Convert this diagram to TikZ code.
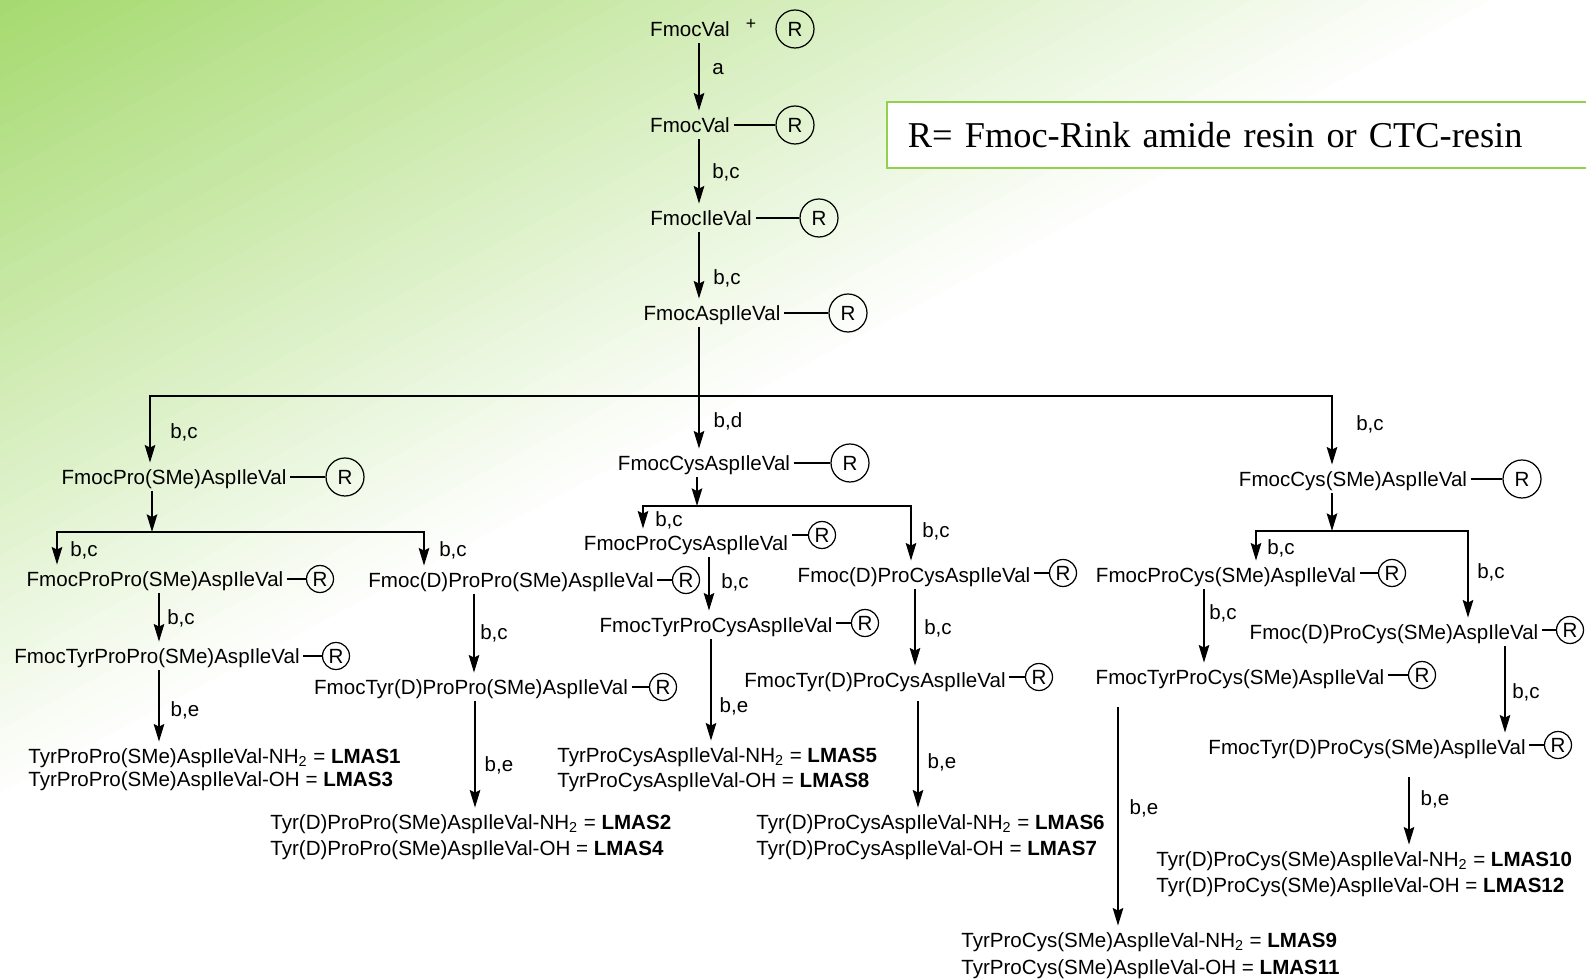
\documentclass[tikz,border=0pt]{standalone}
\usepackage{fontspec}
\setmainfont{Liberation Sans}
\newfontfamily\keyfont{Liberation Serif}
\usetikzlibrary{arrows.meta}
\newcommand\chemfont{\fontsize{11.7}{14}\selectfont}
\definecolor{bggreen}{HTML}{A6DA70}
\definecolor{keygreen}{HTML}{92D050}
\tikzset{
  chem/.style={font=\chemfont, text height=10pt, text depth=2pt, inner sep=2pt},
  prod/.style={chem, anchor=west},
  cond/.style={font=\chemfont, inner sep=0pt},
  resin/.style={circle, draw, line width=0.7pt, inner sep=0pt, minimum size=0.76cm, font=\chemfont},
  bead/.style={resin, minimum size=0.54cm},
  arr/.style={line width=1pt, -{Stealth[length=10pt,width=6pt,inset=1.5pt]}},
  link/.style={line width=0.8pt},
}
\begin{document}
\begin{tikzpicture}[x=0.02cm,y=-0.02cm]
\useasboundingbox (0,0) rectangle (1586,979);
% background
\begin{scope}
\clip (0,0) rectangle (1586,979);
\foreach \i in {0,...,50}{
  \pgfmathtruncatemacro\pct{100-2*\i}
  \fill[bggreen!\pct!white, rotate=-62] (14*\i,-3000) rectangle (2000,3000);
}
\end{scope}

\node[draw=keygreen, line width=1.1pt, fill=white, anchor=west, minimum height=1.32cm,
  text width=13.5cm, inner xsep=0.42cm, align=left,
  font=\keyfont\fontsize{20.7}{25}\selectfont] (key) at (886,135) {R= Fmoc-Rink amide resin or CTC-resin};

% main chain
\node[chem] (v0) at (690,29) {FmocVal};
\node[font=\fontsize{10}{11}\selectfont, inner sep=0pt] (plus) at (751,24) {+};
\node[resin] (r0) at (795,29) {R};
\node[chem] (v1) at (690,125) {FmocVal};
\node[resin] (r1) at (795,125) {R};
\node[chem] (v2) at (701,218) {FmocIleVal};
\node[resin] (r2) at (819,218) {R};
\node[chem] (v3) at (712,313) {FmocAspIleVal};
\node[resin] (r3) at (848,313) {R};
\draw[link] (v1) -- (r1);
\draw[link] (v2) -- (r2);
\draw[link] (v3) -- (r3);
\draw[arr] (v0.south -| 699,0) -- (v1.north -| 699,0);
\draw[arr] (v1.south -| 699,0) -- (v2.north -| 699,0);
\draw[arr] (v2.south -| 699,0) -- (v3.north -| 699,0);
\node[cond] (la) at (718,69) {a};
\node[cond] (lb1) at (726,172) {b,c};
\node[cond] (lb2) at (727,278) {b,c};

% left branch
\node[chem] (L1) at (174,477) {FmocPro(SMe)AspIleVal};
\node[resin] (rL1) at (345,477) {R};
\node[chem] (L2) at (155,579) {FmocProPro(SMe)AspIleVal};
\node[bead] (rL2) at (320,579) {R};
\node[chem] (L3) at (157,656) {FmocTyrProPro(SMe)AspIleVal};
\node[bead] (rL3) at (336,656) {R};
\node[prod] (L4a) at (24.5,756) {TyrProPro(SMe)AspIleVal-NH\textsubscript{2} = \textbf{LMAS1}};
\node[prod] (L4b) at (24.5,779) {TyrProPro(SMe)AspIleVal-OH = \textbf{LMAS3}};
\node[chem] (L5) at (511,580) {Fmoc(D)ProPro(SMe)AspIleVal};
\node[bead] (rL5) at (686,580) {R};
\node[chem] (L6) at (471,687) {FmocTyr(D)ProPro(SMe)AspIleVal};
\node[bead] (rL6) at (663,687) {R};
\node[prod] (L7a) at (266.5,822) {Tyr(D)ProPro(SMe)AspIleVal-NH\textsubscript{2} = \textbf{LMAS2}};
\node[prod] (L7b) at (266.5,848) {Tyr(D)ProPro(SMe)AspIleVal-OH = \textbf{LMAS4}};

% middle branch
\node[chem] (C1) at (704,463) {FmocCysAspIleVal};
\node[resin] (rC1) at (850,463) {R};
\node[chem] (C2) at (686,543) {FmocProCysAspIleVal};
\node[bead] (rC2) at (822,535) {R};
\node[chem] (C3) at (716,625) {FmocTyrProCysAspIleVal};
\node[bead] (rC3) at (865,623) {R};
\node[prod] (C4a) at (553.5,755) {TyrProCysAspIleVal-NH\textsubscript{2} = \textbf{LMAS5}};
\node[prod] (C4b) at (553.5,780) {TyrProCysAspIleVal-OH = \textbf{LMAS8}};
\node[chem] (C5) at (914,575) {Fmoc(D)ProCysAspIleVal};
\node[bead] (rC5) at (1063,573) {R};
\node[chem] (C6) at (875,680) {FmocTyr(D)ProCysAspIleVal};
\node[bead] (rC6) at (1039,677) {R};
\node[prod] (C7a) at (752.5,822) {Tyr(D)ProCysAspIleVal-NH\textsubscript{2} = \textbf{LMAS6}};
\node[prod] (C7b) at (752.5,848) {Tyr(D)ProCysAspIleVal-OH = \textbf{LMAS7}};

% right branch
\node[chem] (R1) at (1353,479) {FmocCys(SMe)AspIleVal};
\node[resin] (rR1) at (1522,479) {R};
\node[chem] (R2) at (1226,575) {FmocProCys(SMe)AspIleVal};
\node[bead] (rR2) at (1392,573) {R};
\node[chem] (R3) at (1240,677) {FmocTyrProCys(SMe)AspIleVal};
\node[bead] (rR3) at (1422,675) {R};
\node[prod] (R4a) at (957.5,940) {TyrProCys(SMe)AspIleVal-NH\textsubscript{2} = \textbf{LMAS9}};
\node[prod] (R4b) at (957.5,967) {TyrProCys(SMe)AspIleVal-OH = \textbf{LMAS11}};
\node[chem] (R5) at (1394,632) {Fmoc(D)ProCys(SMe)AspIleVal};
\node[bead] (rR5) at (1570,630) {R};
\node[chem] (R6) at (1367,747) {FmocTyr(D)ProCys(SMe)AspIleVal};
\node[bead] (rR6) at (1558,745) {R};
\node[prod] (R7a) at (1152.5,859) {Tyr(D)ProCys(SMe)AspIleVal-NH\textsubscript{2} = \textbf{LMAS10}};
\node[prod] (R7b) at (1152.5,885) {Tyr(D)ProCys(SMe)AspIleVal-OH = \textbf{LMAS12}};

% resin links
\draw[link] (L1) -- (rL1);
\draw[link] (C1) -- (rC1);
\draw[link] (R1) -- (rR1);
\foreach \t in {L2,L3,L5,L6,C2,C3,C5,C6,R2,R3,R5,R6}
  \draw[link] (\t.east |- r\t) -- (r\t.west);

% junctions
\coordinate (j0) at (699,396);
\coordinate (jL) at (152,532);
\coordinate (jC) at (697,506);
\coordinate (jR) at (1332,531);
\draw[arr] (v3.south -| j0) -- (C1.north -| j0);
\draw[arr] (j0) -| (L1.north -| 150,0);
\draw[arr] (j0) -| (R1.north -| 1332,0);
\draw[arr] (L1.south -| jL) -- (jL);
\draw[arr] (jL) -| (L2.north -| 57,0);
\draw[arr] (jL) -| (L5.north -| 424,0);
\draw[arr] (C1.south -| jC) -- (jC);
\draw[arr] (jC) -| (C2.north -| 643,0);
\draw[arr] (jC) -| (C5.north -| 911,0);
\draw[arr] (R1.south -| jR) -- (jR);
\draw[arr] (jR) -| (R2.north -| 1256,0);
\draw[arr] (jR) -| (R5.north -| 1468,0);
\node[cond] (lbd) at (728,421) {b,d};
\node[cond] (lbl) at (184,432) {b,c};
\node[cond] (lbr) at (1370,424) {b,c};

% steps down
\draw[arr] (L2.south -| 159,0) -- (L3.north -| 159,0);
\draw[arr] (L3.south -| 159,0) -- (L4a.north -| 159,0);
\draw[arr] (L5.south -| 474,0) -- (L6.north -| 474,0);
\draw[arr] (L6.south -| 475,0) -- (L7a.north -| 475,0);
\draw[arr] (C2.south -| 709,0) -- (C3.north -| 709,0);
\draw[arr] (C3.south -| 711,0) -- (C4a.north -| 711,0);
\draw[arr] (C5.south -| 915,0) -- (C6.north -| 915,0);
\draw[arr, shorten <=4pt] (C6.south -| 918,0) -- (C7a.north -| 918,0);
\draw[arr] (R2.south -| 1204,0) -- (R3.north -| 1204,0);
\draw[arr, shorten <=9pt] (R3.south -| 1118,0) -- (R4a.north -| 1118,0);
\draw[arr] (R5.south -| 1505,0) -- (R6.north -| 1505,0);
\draw[arr, shorten <=9pt] (R6.south -| 1409,0) -- (R7a.north -| 1409,0);

% conditions
\node[cond] (lL1) at (84,550) {b,c};
\node[cond] (lL2) at (453,550) {b,c};
\node[cond] (lL3) at (181,618) {b,c};
\node[cond] (lL4) at (185,710) {b,e};
\node[cond] (lL5) at (494,633) {b,c};
\node[cond] (lL6) at (499,765) {b,e};
\node[cond] (lC1) at (669,520) {b,c};
\node[cond] (lC2) at (936,531) {b,c};
\node[cond] (lC3) at (735,582) {b,c};
\node[cond] (lC4) at (734,706) {b,e};
\node[cond] (lC5) at (938,628) {b,c};
\node[cond] (lC6) at (942,762) {b,e};
\node[cond] (lR1) at (1281,548) {b,c};
\node[cond] (lR2) at (1491,572) {b,c};
\node[cond] (lR3) at (1223,613) {b,c};
\node[cond] (lR4) at (1144,808) {b,e};
\node[cond] (lR5) at (1526,692) {b,c};
\node[cond] (lR6) at (1435,799) {b,e};
\end{tikzpicture}
\end{document}
